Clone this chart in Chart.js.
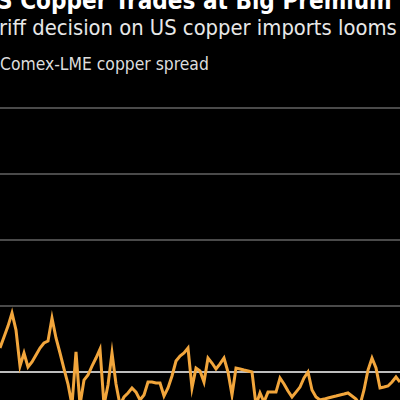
<!DOCTYPE html>
<html>
<head>
<meta charset="utf-8">
<script src="https://cdn.jsdelivr.net/npm/chart.js@4.4.1/dist/chart.umd.min.js"></script>
<style>
  html, body { margin: 0; padding: 0; background: #000; }
  #wrap { position: relative; width: 400px; height: 400px; overflow: hidden; background: #000; }
  .txt { position: absolute; white-space: nowrap; line-height: 1; font-family: "DejaVu Sans Condensed", "DejaVu Sans", sans-serif; }
  #title { color: #ffffff; font-weight: bold; }
  #subtitle { color: #e8e8e8; }
  #legend { color: #dddddd; }
  #chartBox { position: absolute; left: 0; top: 80px; width: 400px; height: 320px; }
</style>
</head>
<body>
<div id="wrap">
  <span id="title" class="txt">S Copper Trades at Big Premium</span>
  <span id="subtitle" class="txt">riff decision on US copper imports looms</span>
  <span id="legend" class="txt">Comex-LME copper spread</span>
  <div id="chartBox"><canvas id="spreadChart"></canvas></div>
</div>
<script>
// Comex-LME copper spread, $/t (visible part of the series)
const spread = [
  182, 265, 348, 447, 318, 45, 144, 38, 76, 129,
  182, 220, 235, 409, 258, 144, 23, -91, -250, 152,
  -250, -61, -23, 45, 106, 174, -250, -98, 144, -91,
  -250, -189, -159, -121, -152, -212, -174, -76, -76, -83,
  -83, -182, -121, -30, 83, 121, 144, 182, -121, 30,
  8, -76, 106, 68, 23, 61, 106, 0, -174, 30,
  23, 15, 8, 0, -250, -159, -227, -152, -152, -152,
  -45, -91, -144, -189, -152, -114, -45, 0, -136, -189,
  -212, -205, -197, -189, -182, -174, -167, -159, -182, -205,
  -250, -136, 15, 106, 30, -121, -114, -106, -76, -38,
  -76
];
const weeks = spread.map((v, i) => "W" + (i + 1));
const yTicks = [0, 500, 1000, 1500, 2000];

// fit a text line to the width it has in the picture, baseline at y
function placeText(id, left, width, baseline, size) {
  const el = document.getElementById(id);
  el.style.fontSize = size + "px";
  const w = el.getBoundingClientRect().width;
  const fs = size * width / w;
  el.style.fontSize = fs + "px";
  el.style.left = left + "px";
  el.style.top = (baseline - 0.846 * fs) + "px";
}
placeText("title", -3, 395, 9, 22);
placeText("subtitle", -1, 398, 35, 21);
placeText("legend", 0, 209, 71, 17);

const canvas = document.getElementById("spreadChart");
const chart = new Chart(canvas, {
  type: "line",
  data: {
    labels: weeks,
    datasets: [
      {
        label: "Comex-LME copper spread",
        data: spread,
        borderColor: "#f2a63c",
        borderWidth: 3,
        pointRadius: 0,
        tension: 0,
        fill: false,
      },
    ],
  },
  options: {
    responsive: true,
    maintainAspectRatio: false,
    animation: false,
    layout: { padding: 0 },
    plugins: {
      legend: { display: false },
      tooltip: { enabled: false },
    },
    scales: {
      x: { display: false, offset: false },
      y: {
        min: -212,
        max: 2212,
        border: { display: false },
        ticks: { display: false },
        afterBuildTicks: (s) => { s.ticks = yTicks.map((v) => ({ value: v })); },
        afterFit: (s) => { s.width = 0; },
        grid: {
          drawTicks: false,
          lineWidth: 2,
          color: (ctx) => (ctx.tick && ctx.tick.value === 0 ? "#bdbdbd" : "#4a4a4a"),
        },
      },
    },
  },
});
</script>
</body>
</html>
